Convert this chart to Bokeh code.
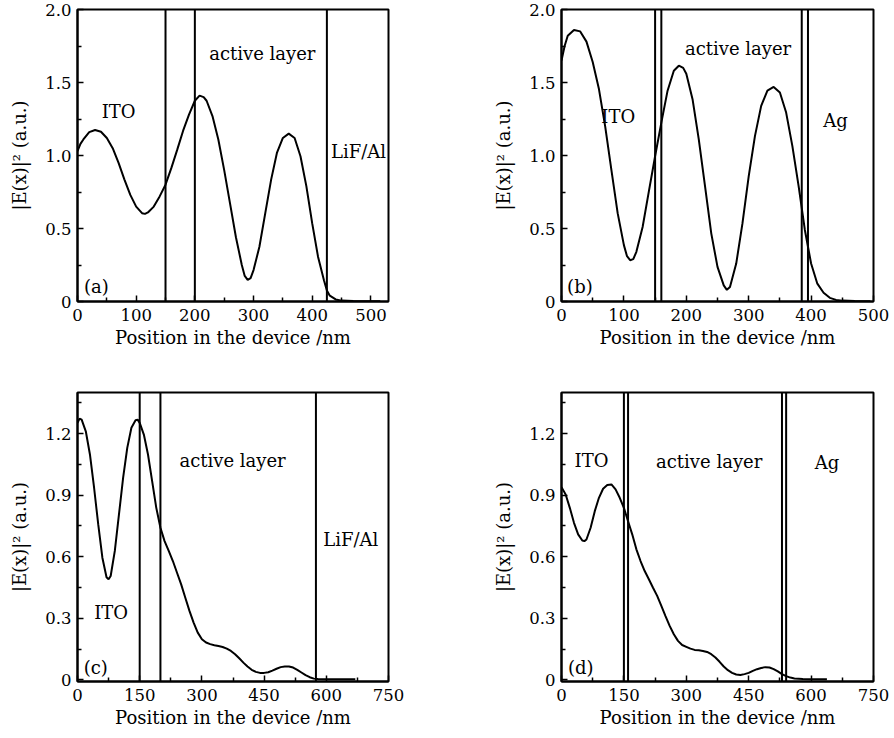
from bokeh.plotting import figure
from bokeh.layouts import gridplot
from bokeh.models import Span, FixedTicker
from bokeh.core.properties import value
from bokeh.embed import file_html
from bokeh.resources import INLINE

FONT = "DejaVu Serif"

# ---------------- data ----------------
# panel (a)
a_x = [0, 5, 10, 20, 30, 40, 50, 60, 70, 80, 90, 100, 110, 115, 120, 130, 140, 150, 160, 170,
       180, 190, 200, 208, 215, 220, 230, 240, 250, 260, 270, 280, 285, 290, 295, 300, 310, 320, 330, 340,
       350, 360, 370, 380, 390, 400, 410, 420, 425, 430, 440, 450, 470, 500, 516]
a_y = [1.03, 1.08, 1.11, 1.16, 1.175, 1.163, 1.12, 1.05, 0.95, 0.835, 0.73, 0.65, 0.605, 0.60, 0.61, 0.65, 0.72, 0.80, 0.915, 1.04,
       1.17, 1.28, 1.375, 1.41, 1.40, 1.375, 1.27, 1.11, 0.90, 0.67, 0.44, 0.25, 0.175, 0.148, 0.16, 0.215, 0.375, 0.605, 0.835, 1.02,
       1.12, 1.15, 1.12, 0.995, 0.79, 0.535, 0.305, 0.145, 0.076, 0.04, 0.014, 0.006, 0.003, 0.002, 0.002]
a_bounds = [150, 200, 425]
a_lab_x = [70, 315, 479, 32]
a_lab_y = [1.30, 1.70, 1.03, 0.10]
a_lab_t = ["ITO", "active layer", "LiF/Al", "(a)"]

# panel (b)
b_x = [0, 5, 10, 20, 30, 40, 50, 60, 70, 80, 90, 100, 105, 110, 115, 120, 130, 140, 150, 160,
       170, 180, 188, 195, 200, 210, 220, 230, 240, 250, 260, 265, 270, 280, 290, 300, 310, 320, 330, 340,
       350, 360, 370, 380, 390, 400, 410, 420, 430, 440, 450, 470, 495]
b_y = [1.65, 1.75, 1.82, 1.86, 1.85, 1.78, 1.64, 1.455, 1.20, 0.90, 0.605, 0.386, 0.31, 0.283, 0.29, 0.34, 0.51, 0.754, 0.995, 1.225,
       1.444, 1.58, 1.615, 1.60, 1.56, 1.386, 1.11, 0.79, 0.467, 0.237, 0.11, 0.08, 0.099, 0.26, 0.535, 0.857, 1.133, 1.34, 1.444, 1.47,
       1.432, 1.294, 1.064, 0.79, 0.49, 0.26, 0.122, 0.06, 0.025, 0.011, 0.006, 0.003, 0.002]
b_bounds = [150, 160, 385, 395]
b_lab_x = [91, 283, 439, 29.5]
b_lab_y = [1.27, 1.735, 1.24, 0.10]
b_lab_t = ["ITO", "active layer", "Ag", "(b)"]

# panel (c)
c_x = [0, 5, 10, 20, 30, 40, 50, 60, 70, 75, 80, 90, 100, 110, 120, 130, 140, 145, 150, 160,
       170, 180, 190, 200, 210, 220, 230, 240, 250, 260, 270, 280, 290, 300, 310, 320, 330, 340, 350, 360,
       370, 380, 390, 400, 410, 420, 430, 440, 450, 460, 470, 480, 490, 500, 510, 520, 530, 540, 550, 560,
       570, 580, 600, 630, 670]
c_y = [1.252, 1.273, 1.268, 1.211, 1.098, 0.936, 0.757, 0.595, 0.50, 0.49, 0.506, 0.628, 0.806, 0.984, 1.13, 1.228, 1.265, 1.268, 1.252, 1.195,
       1.098, 0.968, 0.838, 0.741, 0.676, 0.628, 0.579, 0.522, 0.465, 0.40, 0.336, 0.279, 0.23, 0.198, 0.182, 0.174, 0.169, 0.165, 0.16, 0.152,
       0.141, 0.125, 0.105, 0.084, 0.065, 0.049, 0.039, 0.034, 0.034, 0.037, 0.045, 0.054, 0.062, 0.065, 0.065, 0.06, 0.049, 0.036, 0.023, 0.013,
       0.006, 0.004, 0.003, 0.003, 0.003]
c_bounds = [150, 200, 575]
c_lab_x = [81, 374, 659, 44]
c_lab_y = [0.328, 1.069, 0.684, 0.06]
c_lab_t = ["ITO", "active layer", "LiF/Al", "(c)"]

# panel (d)
d_x = [0, 10, 20, 30, 40, 50, 55, 60, 70, 80, 90, 100, 110, 120, 130, 140, 150, 160, 170, 180,
       190, 200, 210, 220, 230, 240, 250, 260, 270, 280, 290, 300, 310, 320, 330, 340, 350, 360, 370, 380,
       390, 400, 410, 420, 430, 440, 450, 460, 470, 480, 490, 500, 510, 520, 530, 540, 550, 560, 580, 600, 638]
d_y = [0.939, 0.903, 0.838, 0.765, 0.709, 0.679, 0.676, 0.684, 0.741, 0.822, 0.887, 0.931, 0.949, 0.952, 0.928, 0.887, 0.838, 0.773, 0.709, 0.636,
       0.579, 0.53, 0.49, 0.449, 0.409, 0.36, 0.311, 0.263, 0.222, 0.19, 0.17, 0.161, 0.152, 0.146, 0.144, 0.141, 0.136, 0.125, 0.109, 0.088,
       0.065, 0.047, 0.034, 0.026, 0.024, 0.028, 0.034, 0.044, 0.052, 0.058, 0.062, 0.06, 0.052, 0.041, 0.028, 0.018, 0.011, 0.007, 0.004, 0.003, 0.003]
d_bounds = [150, 160, 530, 540]
d_lab_x = [72, 355, 638, 46.5]
d_lab_y = [1.069, 1.065, 1.06, 0.06]
d_lab_t = ["ITO", "active layer", "Ag", "(d)"]

# ticks
top_xticks = [0, 100, 200, 300, 400, 500]
top_xminor = [50, 150, 250, 350, 450]
top_yticks = [0, 0.5, 1.0, 1.5, 2.0]
top_yminor = [0.25, 0.75, 1.25, 1.75]
top_ylabels = ["0", "0.5", "1.0", "1.5", "2.0"]
bot_xticks = [0, 150, 300, 450, 600, 750]
bot_xminor = [75, 225, 375, 525, 675]
bot_yticks = [0, 0.3, 0.6, 0.9, 1.2]
bot_yminor = [0.15, 0.45, 0.75, 1.05, 1.35]
bot_ylabels = ["0", "0.3", "0.6", "0.9", "1.2"]

XLABEL = "Position in the device /nm"
YLABEL = "|E(x)|\u00b2 (a.u.)"


def panel(x, y, bounds, lx, ly, lt, xr, yr, xt, xm, yt, ym, yl,
          fw, fh, bl, br, bt, bb):
    p = figure(frame_width=fw, frame_height=fh, x_range=xr, y_range=yr,
               output_backend="svg", toolbar_location=None,
               min_border_left=bl, min_border_right=br,
               min_border_top=bt, min_border_bottom=bb,
               background_fill_color="white", border_fill_color="white")
    p.grid.visible = False
    p.outline_line_color = "black"
    p.outline_line_width = 2
    p.outline_line_alpha = 1
    p.xaxis.ticker = FixedTicker(ticks=xt, minor_ticks=xm)
    p.yaxis.ticker = FixedTicker(ticks=yt, minor_ticks=ym)
    p.yaxis.major_label_overrides = {t: s for t, s in zip(yt, yl)}
    for ax in (p.xaxis[0], p.yaxis[0]):
        ax.axis_line_color = "black"
        ax.axis_line_width = 2
        ax.major_tick_in = 6
        ax.major_tick_out = 0
        ax.minor_tick_in = 4
        ax.minor_tick_out = 0
        ax.major_tick_line_width = 1.5
        ax.minor_tick_line_width = 1.5
        ax.major_label_text_font = FONT
        ax.major_label_text_font_size = "16.5px"
        ax.major_label_text_color = "black"
        ax.axis_label_text_font = FONT
        ax.axis_label_text_font_size = "18px"
        ax.axis_label_text_font_style = "normal"
        ax.axis_label_text_color = "black"
    p.xaxis.axis_label = XLABEL
    p.yaxis.axis_label = YLABEL
    p.xaxis.major_label_standoff = 7
    p.xaxis.axis_label_standoff = 3
    p.yaxis.major_label_standoff = 6
    p.yaxis.axis_label_standoff = 12
    for b in bounds:
        p.add_layout(Span(location=b, dimension="height", line_color="black", line_width=2))
    p.line(x, y, line_color="black", line_width=2)
    p.text(x=lx, y=ly, text=lt, text_font=value(FONT), text_font_size="18px",
           text_align="center", text_baseline="middle", text_color="black")
    return p


pa = panel(a_x, a_y, a_bounds, a_lab_x, a_lab_y, a_lab_t, (0, 530), (0, 2.0),
           top_xticks, top_xminor, top_yticks, top_yminor, top_ylabels,
           311, 292, 77, 102, 9, 60)
pb = panel(b_x, b_y, b_bounds, b_lab_x, b_lab_y, b_lab_t, (0, 500), (0, 2.0),
           top_xticks, top_xminor, top_yticks, top_yminor, top_ylabels,
           312, 292, 69, 18, 9, 60)
pc = panel(c_x, c_y, c_bounds, c_lab_x, c_lab_y, c_lab_t, (0, 750), (-0.008, 1.4),
           bot_xticks, bot_xminor, bot_yticks, bot_yminor, bot_ylabels,
           311, 289, 77, 102, 31, 46)
pd_ = panel(d_x, d_y, d_bounds, d_lab_x, d_lab_y, d_lab_t, (0, 750), (-0.008, 1.4),
            bot_xticks, bot_xminor, bot_yticks, bot_yminor, bot_ylabels,
            312, 289, 69, 18, 31, 46)

grid = gridplot([[pa, pb], [pc, pd_]], toolbar_location=None)

open("out.html", "w").write(file_html(grid, INLINE))
